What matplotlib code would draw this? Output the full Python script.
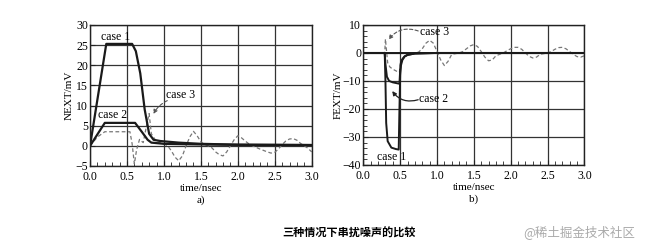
import matplotlib
matplotlib.use("Agg")
import matplotlib.pyplot as plt
from matplotlib.ticker import MultipleLocator

plt.rcParams['font.family'] = ['Liberation Serif', 'Noto Sans CJK SC', 'DejaVu Sans']

# ---- data: NEXT (a) ----
next_c1_t = [0.0, 0.22, 0.57, 0.62, 0.68, 0.74, 0.80, 0.86, 0.95, 1.2, 1.5, 2.0, 2.5, 3.0]
next_c1_v = [0.0, 25.3, 25.3, 23.5, 18.0, 9.0, 3.0, 1.5, 1.2, 0.8, 0.5, 0.3, 0.25, 0.2]
next_c2_t = [0.0, 0.2, 0.61, 0.7, 0.78, 0.83, 1.0, 1.5, 2.0, 3.0]
next_c2_v = [0.0, 5.7, 5.7, 3.5, 1.5, 0.8, 0.5, 0.35, 0.25, 0.2]
next_c3_t = [0.0, 0.1, 0.2, 0.54, 0.57, 0.6, 0.63, 0.67, 0.72, 0.77, 0.8, 0.83, 0.9, 1.0,
             1.05, 1.1, 1.15, 1.2, 1.25, 1.3, 1.35, 1.4, 1.45, 1.5, 1.55, 1.6, 1.65, 1.7, 1.75, 1.8,
             1.85, 1.9, 1.95, 2.0, 2.05, 2.1, 2.15, 2.2, 2.3, 2.4, 2.45, 2.5, 2.55, 2.6, 2.65,
             2.7, 2.75, 2.8, 2.85, 2.9, 2.95, 3.0]
next_c3_v = [0.0, 2.2, 3.5, 3.5, 0.5, -4.5, -1.0, 1.6, 0.8, 5.5, 8.0, 3.0, 1.0, 0.5,
             0.0, -1.2, -2.8, -3.7, -2.5, 0.0, 2.2, 3.6, 2.5, 1.0, 0.3, 0.0, -0.5, -1.5, -2.2, -2.5,
             -1.5, 0.0, 1.5, 2.5, 2.0, 1.2, 0.5, 0.0, -0.8, -1.5, -1.8, -1.6, -0.8, 0.3, 1.2,
             1.7, 1.8, 1.4, 0.6, 0.0, -0.6, -1.5]

# ---- data: FEXT (b) ----
fext_c1_t = [0.0, 0.29, 0.30, 0.31, 0.33, 0.38, 0.44, 0.48, 0.49, 0.5, 0.51, 0.53, 0.56, 0.6, 0.7, 1.0, 3.0]
fext_c1_v = [0.0, 0.0, -10.0, -25.0, -31.5, -33.8, -34.3, -34.5, -20.0, -8.0, -4.5, -2.5, -1.3, -0.7, -0.2, 0.0, 0.0]
fext_c2_t = [0.0, 0.29, 0.30, 0.32, 0.35, 0.4, 0.49, 0.5, 0.51, 0.53, 0.56, 0.6, 0.7, 1.0, 3.0]
fext_c2_v = [0.0, 0.0, -4.0, -8.5, -10.0, -10.5, -11.0, -6.0, -3.5, -2.2, -1.2, -0.7, -0.2, 0.0, 0.0]
fext_c3_t = [0.0, 0.29, 0.30, 0.31, 0.33, 0.36, 0.4, 0.45, 0.49, 0.5, 0.52, 0.56, 0.6, 0.7, 0.75,
             0.8, 0.85, 0.9, 0.95, 1.0, 1.05, 1.1, 1.15, 1.2, 1.3, 1.35, 1.4, 1.45, 1.5, 1.55, 1.6,
             1.65, 1.7, 1.75, 1.8, 1.9, 1.95, 2.0, 2.05, 2.1, 2.15, 2.2, 2.25, 2.3, 2.35, 2.4, 2.5,
             2.55, 2.6, 2.65, 2.7, 2.75, 2.8, 2.85, 2.9, 2.95, 3.0]
fext_c3_v = [0.0, 0.0, 5.0, 2.0, -3.5, -5.0, -5.8, -6.5, -7.0, -4.0, -2.5, -1.2, -0.6, 0.0, 0.3,
             1.5, 3.5, 4.5, 3.5, 0.5, -2.5, -4.5, -3.0, -0.5, 0.0, 0.5, 1.5, 2.5, 3.0, 2.3, 0.5,
             -1.5, -2.8, -2.5, -1.0, 0.0, 0.8, 1.5, 2.0, 2.0, 1.3, 0.0, -1.2, -1.8, -1.5, -0.5, 0.0,
             0.5, 1.3, 1.9, 2.0, 1.5, 0.5, -0.5, -1.3, -1.5, -1.0]

xticks = [0.0, 0.5, 1.0, 1.5, 2.0, 2.5, 3.0]
xtick_labels = ["0.0", "0.5", "1.0", "1.5", "2.0", "2.5", "3.0"]

fig = plt.figure(figsize=(6.5, 2.44), dpi=100)
fig.patch.set_facecolor('white')

ax1 = fig.add_axes([0.1385, 0.3197, 0.341, 0.578])
ax2 = fig.add_axes([0.559, 0.3238, 0.340, 0.574])

def style(ax, ylim, ymajor, yminor):
    ax.set_xlim(0, 3.0)
    ax.set_ylim(*ylim)
    ax.set_xticks(xticks)
    ax.set_xticklabels(xtick_labels)
    ax.xaxis.set_minor_locator(MultipleLocator(0.1))
    ax.yaxis.set_major_locator(MultipleLocator(ymajor))
    if yminor:
        ax.yaxis.set_minor_locator(MultipleLocator(yminor))
    ax.grid(True, which='major', color='#333333', linewidth=0.9)
    ax.tick_params(which='both', direction='in', labelsize=8.5, color='#222222')
    ax.tick_params(axis='y', pad=1.5)
    ax.tick_params(axis='x', pad=3.5)
    ax.tick_params(which='major', length=3.5)
    ax.tick_params(which='minor', length=3)
    for s in ax.spines.values():
        s.set_linewidth(1.0)
        s.set_color('#222222')
    ax.set_axisbelow(True)

style(ax1, (-5, 30), 5, None)
style(ax2, (-40, 10), 10, 2)

# NEXT
ax1.plot(next_c3_t, next_c3_v, color='#777777', lw=0.9, ls=(0, (3, 2)))
ax1.plot(next_c2_t, next_c2_v, color='#1a1a1a', lw=1.6)
ax1.plot(next_c1_t, next_c1_v, color='#1a1a1a', lw=1.6)
ax1.set_ylabel("NEXT/mV", fontsize=8, labelpad=1)
ax1.set_xlabel("time/nsec\na)", fontsize=8, labelpad=1, linespacing=1.3)
ax1.text(0.34, 26.9, "case 1", fontsize=8.5, ha='center', va='center')
ax1.text(0.31, 7.7, "case 2", fontsize=8.5, ha='center', va='center')
ax1.text(1.23, 12.6, "case 3", fontsize=8.5, ha='center', va='center')
ax1.annotate("", xy=(0.84, 7.3), xytext=(1.08, 11.5),
             arrowprops=dict(arrowstyle='-|>', color='#555555', lw=0.8, ls=(0, (3, 2)),
                             connectionstyle='arc3,rad=0.2', mutation_scale=6))

# FEXT
ax2.plot(fext_c3_t, fext_c3_v, color='#777777', lw=0.9, ls=(0, (3, 2)))
ax2.plot(fext_c2_t, fext_c2_v, color='#1a1a1a', lw=1.4)
ax2.plot(fext_c1_t, fext_c1_v, color='#1a1a1a', lw=1.4)
ax2.axhline(0, color='#1a1a1a', lw=1.4)
ax2.set_ylabel("FEXT/mV", fontsize=8, labelpad=0)
ax2.set_xlabel("time/nsec\nb)", fontsize=8, labelpad=1, linespacing=1.3)
ax2.text(0.97, 7.5, "case 3", fontsize=8.5, ha='center', va='center')
ax2.text(0.95, -16.4, "case 2", fontsize=8.5, ha='center', va='center')
ax2.text(0.38, -37.0, "case 1", fontsize=8.5, ha='center', va='center')
ax2.annotate("", xy=(0.32, 4.0), xytext=(0.78, 7.5),
             arrowprops=dict(arrowstyle='-|>', color='#555555', lw=0.8, ls=(0, (3, 2)),
                             connectionstyle='arc3,rad=0.4', mutation_scale=6))
ax2.annotate("", xy=(0.37, -12.8), xytext=(0.78, -16.4),
             arrowprops=dict(arrowstyle='-|>', color='#222222', lw=0.9,
                             connectionstyle='arc3,rad=-0.4', mutation_scale=6))

fig.text(349/650, 1 - 233/244, "三种情况下串扰噪声的比较", fontsize=8, fontweight='bold',
         ha='center', va='center', family=['Noto Sans CJK SC', 'DejaVu Sans'])
fig.text(579/650, 1 - 232/244, "@稀土掘金技术社区", fontsize=9, color='#aaaaaa',
         ha='center', va='center', family=['Noto Sans CJK SC', 'DejaVu Sans'])

fig.savefig("out.png", dpi=100, facecolor='white')
